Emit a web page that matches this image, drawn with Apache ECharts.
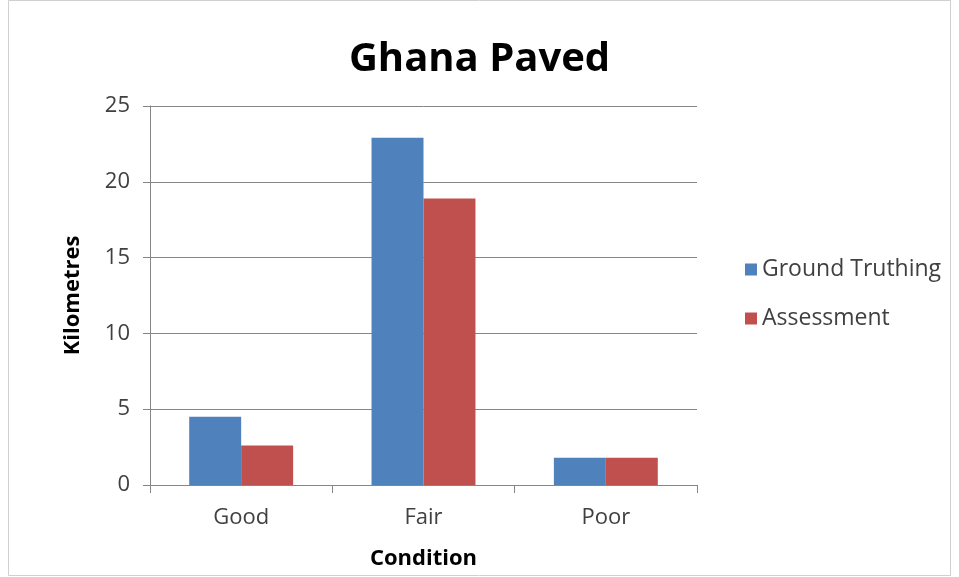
<!DOCTYPE html>
<html>
<head>
<meta charset="utf-8">
<script src="https://cdn.jsdelivr.net/npm/echarts@6/dist/echarts.min.js"></script>
<style>html,body{margin:0;padding:0;background:#fff;}#c{width:959px;height:577px;}</style>
</head>
<body>
<div id="c"></div>
<script>
const categories = ['Good', 'Fair', 'Poor'];
const groundTruthing = [4.5, 22.9, 1.8];
const assessment = [2.6, 18.9, 1.8];
const yTicks = {min: 0, max: 25, interval: 5};

const chart = echarts.init(document.getElementById('c'), null, {renderer: 'canvas'});
const font = '"Open Sans", "Liberation Sans", sans-serif';
chart.setOption({
  backgroundColor: '#ffffff',
  animation: false,
  title: {
    text: 'Ghana Paved', left: 'center', top: 35,
    textStyle: {fontFamily: font, fontWeight: 'bold', fontSize: 40, color: '#000'}
  },
  legend: {
    orient: 'vertical', left: 740, top: 253, itemGap: 26,
    icon: 'rect', itemWidth: 12, itemHeight: 12,
    textStyle: {fontFamily: font, fontSize: 23, color: '#404040'},
    data: ['Ground Truthing', 'Assessment']
  },
  grid: {left: 150, right: 262, top: 106, bottom: 92},
  xAxis: {
    type: 'category', data: categories,
    name: 'Condition', nameLocation: 'middle', nameGap: 63,
    nameTextStyle: {fontFamily: font, fontWeight: 'bold', fontSize: 22, color: '#000'},
    axisLine: {lineStyle: {color: '#868686', width: 1}},
    axisTick: {show: true, alignWithLabel: false, length: 8, lineStyle: {color: '#868686'}},
    axisLabel: {fontFamily: font, fontSize: 22, color: '#404040', margin: 22}
  },
  yAxis: {
    type: 'value', min: yTicks.min, max: yTicks.max, interval: yTicks.interval,
    name: 'Kilometres', nameLocation: 'middle', nameGap: 66, nameRotate: 90,
    nameTextStyle: {fontFamily: font, fontWeight: 'bold', fontSize: 22, color: '#000'},
    axisLine: {show: true, lineStyle: {color: '#868686', width: 1}},
    axisTick: {show: true, length: 7, lineStyle: {color: '#868686'}},
    axisLabel: {fontFamily: font, fontSize: 22, color: '#404040', margin: 20},
    splitLine: {show: true, lineStyle: {color: '#868686', width: 1}}
  },
  series: [
    {name: 'Ground Truthing', type: 'bar', data: groundTruthing, barWidth: '28.5%', barGap: '0%',
     itemStyle: {color: '#4f81bd'}},
    {name: 'Assessment', type: 'bar', data: assessment, barWidth: '28.5%', barGap: '0%',
     itemStyle: {color: '#c0504d'}}
  ],
  graphic: [{
    type: 'rect', shape: {x: 8.5, y: 0.5, width: 942, height: 575},
    style: {fill: 'none', stroke: '#d0d0d0', lineWidth: 1}, silent: true
  }]
});
</script>
</body>
</html>
